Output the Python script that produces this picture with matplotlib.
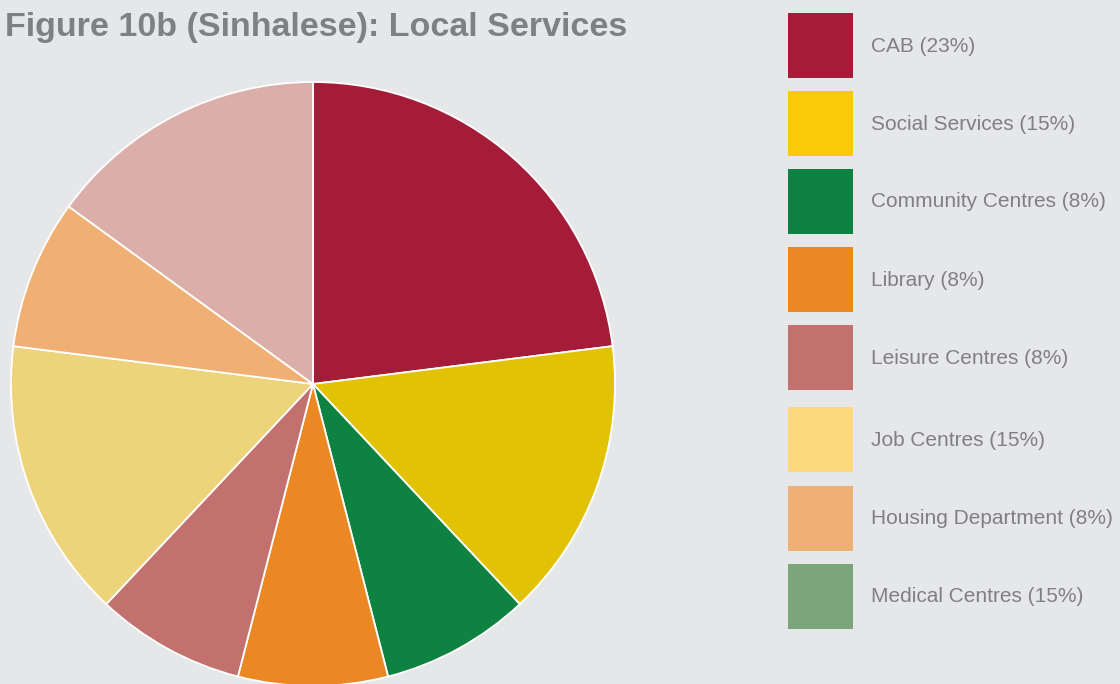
import matplotlib.pyplot as plt
from matplotlib.patches import Rectangle

services = ["CAB", "Social Services", "Community Centres", "Library",
            "Leisure Centres", "Job Centres", "Housing Department", "Medical Centres"]
shares = [23, 15, 8, 8, 8, 15, 8, 15]
slice_colors = ["#A51C38", "#E2C205", "#0E8241", "#EB8823",
                "#C2716E", "#EDD37A", "#F1B073", "#DCAEA9"]
key_colors = ["#A51C38", "#FCC80A", "#0E8241", "#EB8823",
              "#C2716E", "#FDD97D", "#F1B073", "#7BA57B"]

bg = "#E6E7E9"
W, H = 1120, 684
fig = plt.figure(figsize=(W / 100, H / 100), dpi=100, facecolor=bg)

# pie centred at (313, 384) px with a 302 px radius
cx, cy, r = 313, 384, 302
ax = fig.add_axes([(cx - r) / W, (H - cy - r) / H, 2 * r / W, 2 * r / H])
ax.set_facecolor(bg)
ax.pie(shares, colors=slice_colors, startangle=90, counterclock=False, radius=1,
       wedgeprops=dict(edgecolor="white", linewidth=1.3))
ax.set_xlim(-1, 1)
ax.set_ylim(-1, 1)
ax.axis("off")

fig.text(5 / W, 1 - 36 / H, "Figure 10b (Sinhalese): Local Services",
         fontsize=24.5, fontweight="bold", color="#7F8083",
         family="Liberation Sans", va="baseline", ha="left")

# legend: coloured squares with labels
tops = [13, 91, 169, 247, 325, 407, 486, 564]
for name, pct, col, top in zip(services, shares, key_colors, tops):
    fig.patches.append(Rectangle((788 / W, 1 - (top + 65) / H), 65 / W, 65 / H,
                                 transform=fig.transFigure, facecolor=col,
                                 edgecolor="none"))
    fig.text(871 / W, 1 - (top + 33) / H, f"{name} ({pct}%)", fontsize=15,
             color="#808083", family="Liberation Sans", va="center", ha="left")

fig.savefig("out.png", dpi=100, facecolor=bg)
